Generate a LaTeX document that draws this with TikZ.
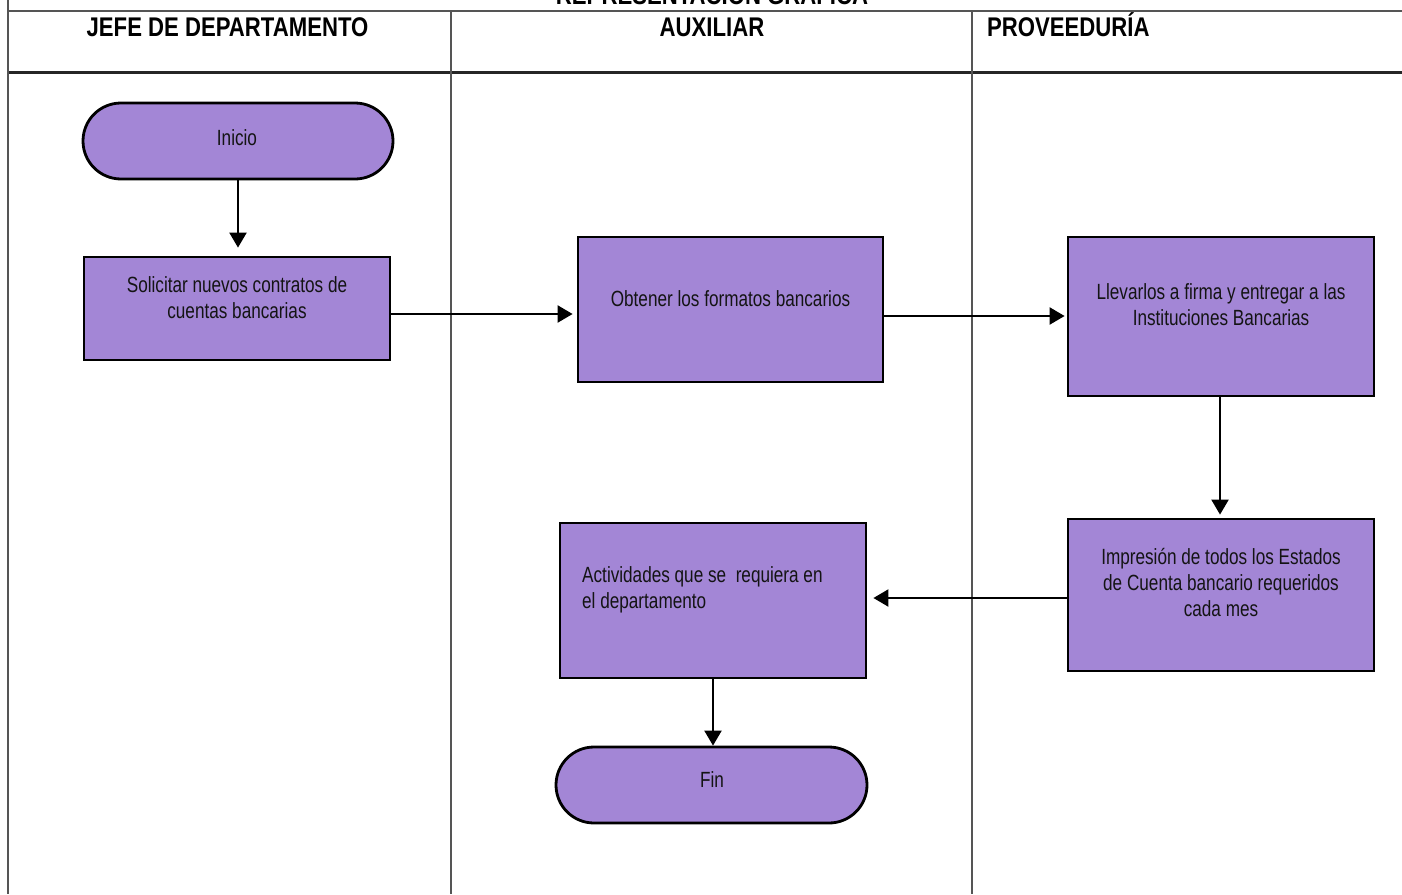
\documentclass[tikz,border=0pt]{standalone}
\usepackage{fontspec}
\setmainfont{Liberation Sans}[FakeStretch=0.78]
\newfontfamily\hdrfont{Liberation Sans}[FakeStretch=0.82]
\usetikzlibrary{arrows.meta}
\definecolor{boxfill}{RGB}{163,134,214}
\definecolor{rulegray}{RGB}{85,85,85}
\definecolor{ink}{RGB}{20,20,20}
\begin{document}
\begin{tikzpicture}[x=1pt,y=-1pt,
  stepbox/.style={draw=black, line width=2.8pt, fill=boxfill, inner sep=0pt},
  term/.style={stepbox, rounded corners=38pt},
  txt/.style={font=\fontsize{22}{26}\selectfont, text=ink, inner sep=0pt, align=center, anchor=base},
  hdr/.style={font=\hdrfont\fontsize{27}{30}\selectfont\bfseries, text=black, inner sep=0pt, anchor=base},
  conn/.style={line width=2.2pt, -{Triangle[length=15pt,width=17pt]}},
  lane/.style={draw=rulegray, line width=1.5pt}]
\useasboundingbox (0,0) rectangle (1402,894);
\clip (0,0) rectangle (1402,894);
\fill[white] (0,0) rectangle (1402,894);

% lanes and header
\coordinate (tl) at (8,10.5);
\coordinate (tr) at (1402,10.5);
\coordinate (hl) at (8,72.5);
\coordinate (hr) at (1402,72.5);
\draw[lane, line width=2pt] (tl) -- (tr);
\draw[draw=black!85, line width=2.4pt] (hl) -- (hr);
\draw[lane] (8,0) -- (8,894);
\draw[lane] (451,10.5) -- (451,894);
\draw[lane] (972,10.5) -- (972,894);

\node[hdr] (title) at (712,5) {REPRESENTACIÓN GRÁFICA};
\node[hdr] (h1) at (227.5,36) {JEFE DE DEPARTAMENTO};
\node[hdr] (h2) at (712,36) {AUXILIAR};
\node[hdr, anchor=base west] (h3) at (987,36) {PROVEEDURÍA};

% shapes
\node[term, minimum width=310pt, minimum height=76pt] (ini) at (238,141) {};
\node[stepbox, minimum width=306pt, minimum height=103pt] (b1) at (237,308.5) {};
\node[stepbox, minimum width=305pt, minimum height=145pt] (b2) at (730.5,309.5) {};
\node[stepbox, minimum width=306pt, minimum height=159pt] (b3) at (1221,316.5) {};
\node[stepbox, minimum width=306pt, minimum height=152pt] (b4) at (1221,595) {};
\node[stepbox, minimum width=306pt, minimum height=155pt] (b5) at (713,600.5) {};
\node[term, minimum width=311pt, minimum height=76pt] (fin) at (711.5,785) {};

% texts (multi-line nodes: base = last line)
\node[txt] (tini) at (237,145) {Inicio};
\node[txt] (t1) at (237,318) {Solicitar nuevos contratos de\\cuentas bancarias};
\node[txt] (t2) at (730.5,306.7) {Obtener los formatos bancarios};
\node[txt] (t3) at (1221,325) {Llevarlos a firma y entregar a las\\Instituciones Bancarias};
\node[txt] (t4) at (1221,616) {Impresión de todos los Estados\\de Cuenta bancario requeridos\\cada mes};
\node[txt, align=left, anchor=base west] (t5) at (582,608) {Actividades que se\ \ requiera en\\el departamento};
\node[txt] (tfin) at (712,787) {Fin};

% connectors
\draw[conn, shorten >=8pt] (ini.south) -- (ini.south |- b1.north);
\draw[conn, shorten >=4pt] (b1.east |- 0,314) -- (b2.west |- 0,314);
\draw[conn, shorten >=2pt] (b2.east |- 0,316) -- (b3.west |- 0,316);
\draw[conn, shorten >=3pt] (b3.south -| 1220,0) -- (b4.north -| 1220,0);
\draw[conn, shorten >=6pt] (b4.west |- 0,598) -- (b5.east |- 0,598);
\draw[conn] (b5.south) -- (b5.south |- fin.north);
\end{tikzpicture}
\end{document}
